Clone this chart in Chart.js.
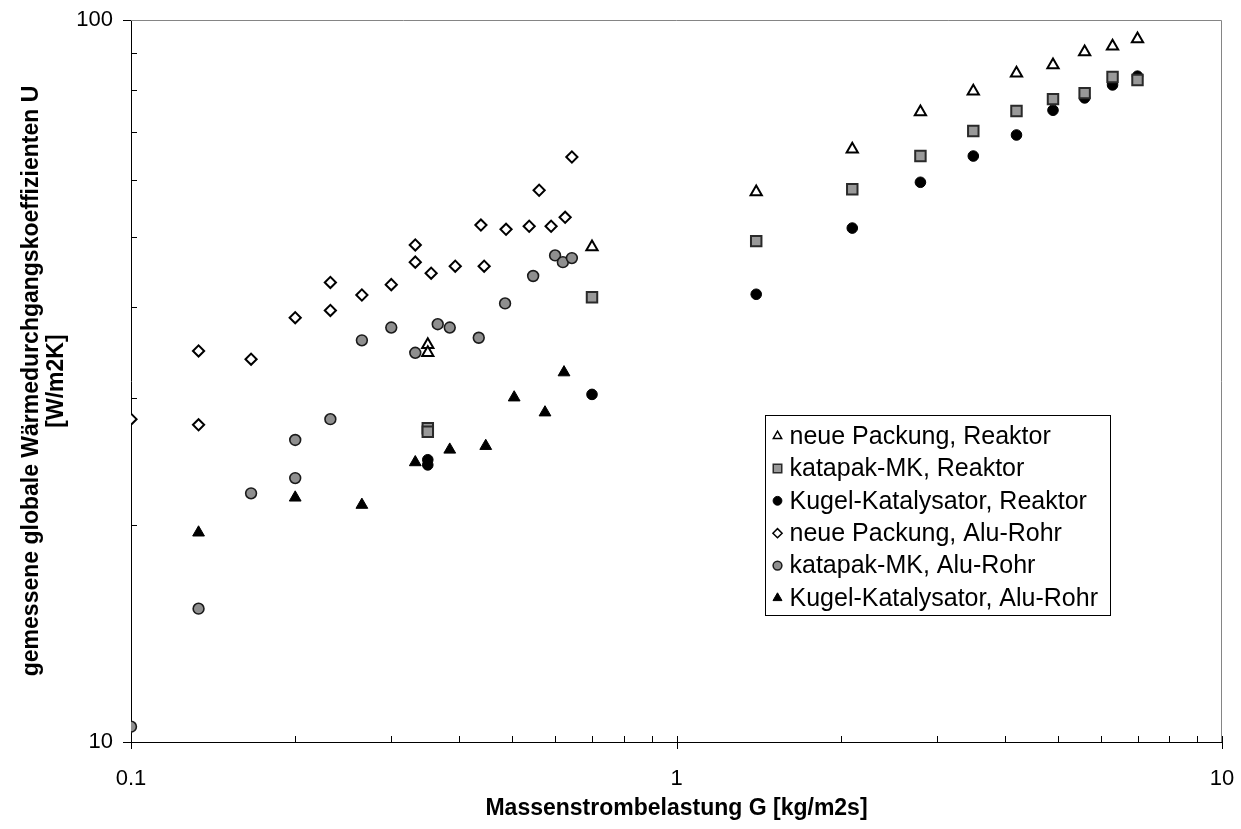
<!DOCTYPE html>
<html>
<head>
<meta charset="utf-8">
<script src="https://cdn.jsdelivr.net/npm/chart.js@4.4.1/dist/chart.umd.min.js"></script>
<style>
  html, body { margin: 0; padding: 0; background: #fff; }
  #wrap { width: 1241px; height: 829px; }
</style>
</head>
<body>
<div id="wrap"><canvas id="c" width="1241" height="829"></canvas></div>
<script>
// Massenstrombelastung G [kg/m2s] and measured U [W/m2K] per series
const neuePackungReaktorG = [0.35, 0.35, 0.7, 1.4, 2.1, 2.8, 3.5, 4.2, 4.9, 5.6, 6.3, 7.0];
const neuePackungReaktorU = [35.5, 34.6, 48.5, 57.8, 66.2, 74.6, 79.7, 84.4, 86.6, 90.3, 92.0, 94.1];

const katapakReaktorG = [0.35, 0.35, 0.7, 1.4, 2.1, 2.8, 3.5, 4.2, 4.9, 5.6, 6.3, 7.0];
const katapakReaktorU = [27.2, 26.9, 41.3, 49.4, 58.3, 64.8, 70.2, 74.8, 77.7, 79.2, 83.4, 82.6];

const kugelReaktorG = [0.35, 0.35, 0.7, 1.4, 2.1, 2.8, 3.5, 4.2, 4.9, 5.6, 6.3, 7.0];
const kugelReaktorU = [24.6, 24.2, 30.3, 41.7, 51.5, 59.6, 64.8, 69.3, 75.0, 78.0, 81.3, 83.6];

const neuePackungAluG = [0.1, 0.133, 0.133, 0.166, 0.2, 0.232, 0.232, 0.265, 0.3, 0.332, 0.332, 0.355, 0.393, 0.444, 0.438, 0.487, 0.537, 0.589, 0.625, 0.56, 0.643];
const neuePackungAluU = [28.0, 27.5, 34.8, 33.9, 38.7, 39.6, 43.3, 41.6, 43.0, 48.8, 46.2, 44.6, 45.6, 45.6, 52.0, 51.3, 51.8, 51.8, 53.3, 58.1, 64.6];

const katapakAluG = [0.1, 0.133, 0.166, 0.2, 0.2, 0.232, 0.265, 0.3, 0.332, 0.365, 0.384, 0.434, 0.485, 0.546, 0.599, 0.619, 0.643];
const katapakAluU = [10.5, 15.3, 22.1, 23.2, 26.2, 28.0, 36.0, 37.5, 34.6, 37.9, 37.5, 36.3, 40.5, 44.2, 47.2, 46.2, 46.8];

const kugelAluG = [0.133, 0.2, 0.265, 0.332, 0.384, 0.447, 0.504, 0.574, 0.622];
const kugelAluU = [19.5, 21.8, 21.3, 24.4, 25.4, 25.7, 30.0, 28.6, 32.5];

const seriesNames = [
  'neue Packung, Reaktor',
  'katapak-MK, Reaktor',
  'Kugel-Katalysator, Reaktor',
  'neue Packung, Alu-Rohr',
  'katapak-MK, Alu-Rohr',
  'Kugel-Katalysator, Alu-Rohr'
];

const xTitle = 'Massenstrombelastung G [kg/m2s]';
const yTitle = ['gemessene globale Wärmedurchgangskoeffizienten U', '[W/m2K]'];

const FONT = "'Liberation Sans', Arial, Helvetica, sans-serif";

function pairs(xs, ys) { return xs.map((x, i) => ({ x: x, y: ys[i] })); }
function isDecade(v) { const l = Math.log10(v); return Math.abs(l - Math.round(l)) < 1e-9; }
function decadeTicks(min, max) {
  const out = [];
  for (let e = Math.floor(Math.log10(min)); e <= Math.ceil(Math.log10(max)); e++) {
    for (let m = 1; m <= 9; m++) {
      const v = parseFloat((m * Math.pow(10, e)).toPrecision(12));
      if (v >= min - 1e-12 && v <= max + 1e-12) out.push({ value: v, major: m === 1 });
    }
  }
  return out;
}

const styles = [
  { pointStyle: 'triangle', radius: 6.5, bg: '#ffffff', border: '#000000', bw: 2 },
  { pointStyle: 'rect',     radius: 7.4, bg: '#999999', border: '#2a2a2a', bw: 2 },
  { pointStyle: 'circle',   radius: 5.3, bg: '#000000', border: '#000000', bw: 1 },
  { pointStyle: 'rectRot',  radius: 5.6, bg: '#ffffff', border: '#000000', bw: 2 },
  { pointStyle: 'circle',   radius: 5.4, bg: '#8f8f8f', border: '#1a1a1a', bw: 1.6 },
  { pointStyle: 'triangle', radius: 6.8, bg: '#000000', border: '#000000', bw: 1 }
];

const seriesData = [
  pairs(neuePackungReaktorG, neuePackungReaktorU),
  pairs(katapakReaktorG, katapakReaktorU),
  pairs(kugelReaktorG, kugelReaktorU),
  pairs(neuePackungAluG, neuePackungAluU),
  pairs(katapakAluG, katapakAluU),
  pairs(kugelAluG, kugelAluU)
];

const datasets = seriesData.map((d, i) => ({
  label: seriesNames[i],
  data: d,
  showLine: false,
  pointStyle: styles[i].pointStyle,
  pointRadius: styles[i].radius,
  pointHoverRadius: styles[i].radius,
  pointBackgroundColor: styles[i].bg,
  pointBorderColor: styles[i].border,
  pointBorderWidth: styles[i].bw
}));

// Plot frame: grey top/right edges, tick marks (major outward, minor inward)
const frameAndTicks = {
  id: 'frameAndTicks',
  beforeDatasetsDraw(chart) {
    const { ctx, chartArea: { left, right, top, bottom } } = chart;
    ctx.save();
    ctx.strokeStyle = '#858585';
    ctx.lineWidth = 1;
    ctx.beginPath();
    ctx.moveTo(left, top + 0.5);
    ctx.lineTo(right - 0.5, top + 0.5);
    ctx.lineTo(right - 0.5, bottom);
    ctx.stroke();
    ctx.restore();
  },
  afterDraw(chart) {
    const { ctx, chartArea: { left, bottom }, scales: { x, y } } = chart;
    ctx.save();
    ctx.strokeStyle = '#000';
    ctx.lineWidth = 1;
    ctx.beginPath();
    x.ticks.forEach(t => {
      const px = Math.round(x.getPixelForValue(t.value)) + 0.5;
      ctx.moveTo(px, isDecade(t.value) ? bottom + 7 : bottom);
      ctx.lineTo(px, bottom - 6);
    });
    y.ticks.forEach(t => {
      const py = Math.round(y.getPixelForValue(t.value)) + 0.5;
      if (isDecade(t.value)) { ctx.moveTo(left - 8, py); ctx.lineTo(left, py); }
      else { ctx.moveTo(left, py); ctx.lineTo(left + 6, py); }
    });
    ctx.stroke();
    ctx.restore();
  }
};

// Framed legend inside the plot area
const legendBox = {
  id: 'legendBox',
  afterDraw(chart) {
    const { ctx, chartArea: { left, top } } = chart;
    const bx = left + 634.5, by = top + 395.5, bw = 345, bh = 200;
    ctx.save();
    ctx.fillStyle = '#fff';
    ctx.fillRect(bx, by, bw, bh);
    ctx.strokeStyle = '#000';
    ctx.lineWidth = 1;
    ctx.strokeRect(bx, by, bw, bh);
    const legendRadius = [4.8, 6, 4.4, 4.6, 4.4, 5.2];
    chart.data.datasets.forEach((ds, i) => {
      const cy = by + 20.5 + i * 32.4;
      const st = styles[i];
      ctx.fillStyle = st.bg;
      ctx.strokeStyle = st.border;
      ctx.lineWidth = Math.min(st.bw, 1.5);
      Chart.helpers.drawPoint(ctx, { pointStyle: st.pointStyle, radius: legendRadius[i], borderWidth: Math.min(st.bw, 1.5), rotation: 0 }, bx + 12, cy);
      ctx.fillStyle = '#000';
      ctx.font = '25px ' + FONT;
      ctx.textBaseline = 'middle';
      ctx.textAlign = 'left';
      ctx.fillText(ds.label, bx + 24, cy + 1);
    });
    ctx.restore();
  }
};

const bgPlugin = {
  id: 'bg',
  beforeDraw(chart) {
    const c = chart.ctx;
    c.save();
    c.fillStyle = '#fff';
    c.fillRect(0, 0, chart.width, chart.height);
    c.restore();
  }
};

new Chart(document.getElementById('c'), {
  type: 'scatter',
  data: { datasets: datasets },
  options: {
    responsive: false,
    animation: false,
    devicePixelRatio: 1,
    layout: { padding: { top: 20, right: 19, left: 0, bottom: 0 } },
    plugins: { legend: { display: false }, tooltip: { enabled: false } },
    scales: {
      x: {
        type: 'logarithmic',
        position: 'bottom',
        min: 0.1,
        max: 10,
        afterBuildTicks(s) { s.ticks = decadeTicks(0.1, 10); },
        afterFit(s) { s.height = 87; s.paddingLeft = 0; s.paddingRight = 0; },
        grid: { display: false, drawTicks: false },
        border: { display: true, color: '#000', width: 1 },
        ticks: {
          autoSkip: false,
          maxRotation: 0,
          padding: 24,
          color: '#000',
          font: { family: FONT, size: 22 },
          callback: v => isDecade(v) ? String(v) : ''
        },
        title: {
          display: true,
          text: xTitle,
          color: '#000',
          font: { family: FONT, size: 23, weight: 'bold' },
          padding: { top: 0, bottom: 7 }
        }
      },
      y: {
        type: 'logarithmic',
        position: 'left',
        min: 10,
        max: 100,
        afterBuildTicks(s) { s.ticks = decadeTicks(10, 100); },
        afterFit(s) { s.width = 131; s.paddingTop = 0; s.paddingBottom = 0; },
        grid: { display: false, drawTicks: false },
        border: { display: true, color: '#000', width: 1 },
        ticks: {
          autoSkip: false,
          padding: 18,
          color: '#000',
          font: { family: FONT, size: 22 },
          callback: v => isDecade(v) ? String(v) : ''
        },
        title: {
          display: true,
          text: yTitle,
          color: '#000',
          font: { family: FONT, size: 23, weight: 'bold', lineHeight: 1.05 },
          padding: { top: 20, bottom: 0 }
        }
      }
    }
  },
  plugins: [bgPlugin, frameAndTicks, legendBox]
});
</script>
</body>
</html>
